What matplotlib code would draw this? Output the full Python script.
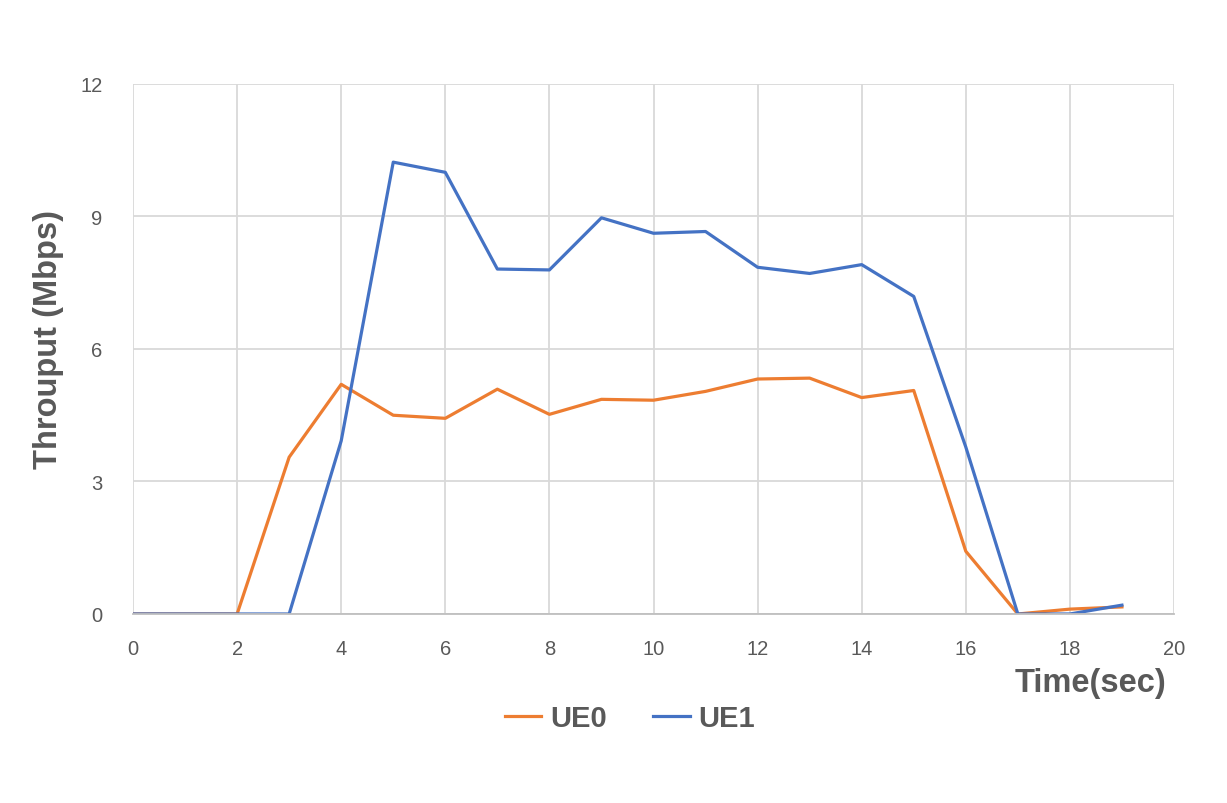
import matplotlib.pyplot as plt

time = list(range(20))
ue0 = [0, 0, 0, 3.55, 5.2, 4.5, 4.43, 5.09, 4.52, 4.86, 4.84, 5.04, 5.32, 5.34, 4.9, 5.06, 1.42, 0, 0.11, 0.16]
ue1 = [0, 0, 0, 0, 3.92, 10.23, 10.0, 7.81, 7.79, 8.97, 8.62, 8.66, 7.85, 7.71, 7.91, 7.19, 3.78, 0, 0, 0.2]
xticks = list(range(0, 21, 2))
yticks = [0, 3, 6, 9, 12]

plt.rcParams['font.family'] = ['Liberation Sans', 'DejaVu Sans']

fig = plt.figure(figsize=(12.27, 8.04), dpi=100)
ax = fig.add_axes([0.1084, 0.2351, 0.8484, 0.6592])

ax.plot(time, ue0, color="#ED7D31", lw=2.3, label="UE0")
ax.plot(time, ue1, color="#4472C4", lw=2.3, label="UE1")

ax.set_xlim(0, 20)
ax.set_ylim(0, 12)
ax.set_xticks(xticks)
ax.set_yticks(yticks)
ax.grid(True, color="#D9D9D9", lw=1.3)
ax.set_axisbelow(True)
for s in ["top", "right", "left"]:
    ax.spines[s].set_visible(False)
ax.spines["bottom"].set_color("#BFBFBF")
ax.spines["bottom"].set_linewidth(1.3)
ax.tick_params(length=0, labelsize=14.5, labelcolor="#595959")
ax.tick_params(axis="x", pad=18)
ax.tick_params(axis="y", pad=22)

fig.text(0.9505, 1 - 684 / 804, "Time(sec)", ha="right", va="center",
         fontsize=23.5, fontweight="bold", color="#595959")
fig.text(49 / 1227, 1 - 340 / 804, "Throuput (Mbps)", ha="center", va="center",
         rotation=90, fontsize=23.5, fontweight="bold", color="#595959")

leg = fig.legend(loc="center", bbox_to_anchor=(630 / 1227, 1 - 719 / 804), ncol=2,
                 frameon=False, prop={"size": 21, "weight": "bold"},
                 handlelength=1.25, handletextpad=0.3, columnspacing=1.6)
for t in leg.get_texts():
    t.set_color("#595959")

plt.savefig("out.png", dpi=100)
